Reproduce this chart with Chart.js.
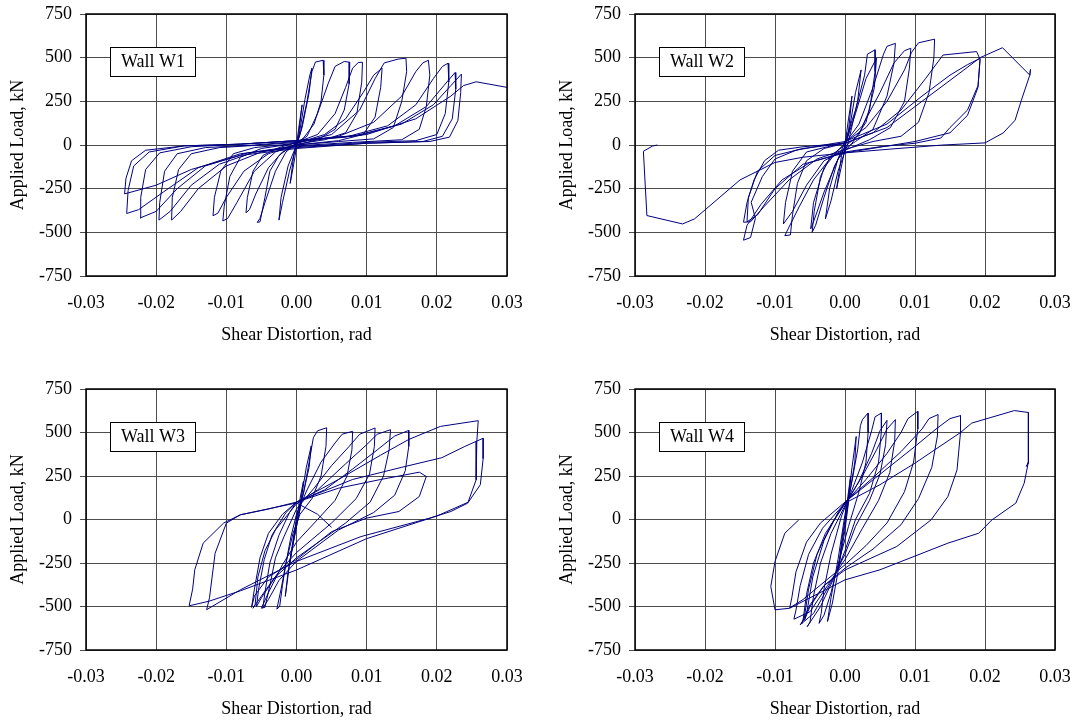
<!DOCTYPE html>
<html><head><meta charset="utf-8">
<script src="https://cdn.jsdelivr.net/npm/chart.js@4.4.1/dist/chart.umd.min.js"></script>
<style>
html,body{margin:0;padding:0;background:#fff;width:1074px;height:722px;overflow:hidden}
canvas{position:absolute;display:block}
</style></head><body>
<canvas id="c1" width="537" height="361" style="left:0;top:0"></canvas>
<canvas id="c2" width="537" height="361" style="left:537px;top:0"></canvas>
<canvas id="c3" width="537" height="361" style="left:0;top:361px"></canvas>
<canvas id="c4" width="537" height="361" style="left:537px;top:361px"></canvas>
<script>
const xTickValues = [-0.03, -0.02, -0.01, 0, 0.01, 0.02, 0.03];
const yTickValues = [-750, -500, -250, 0, 250, 500, 750];
const wallNames = ['Wall W1', 'Wall W2', 'Wall W3', 'Wall W4'];
const xTitle = 'Shear Distortion, rad';
const yTitle = 'Applied Load, kN';

// [shear distortion (rad), applied load (kN)]
const wallW1 = [
[0,0],[0.0004,120],[0.0008,230],[0.0003,60],[-0.0004,-110],[-0.0009,-220],[-0.0004,-60],[0.0003,40],[0.0012,260],[0.0019,400],[0.0022,440],[0.0018,300],[0.0008,100],[0,0],[-0.001,-150],[-0.002,-330],[-0.0025,-430],[-0.0022,-300],[-0.0012,-120],[-0.0002,-20],
[0.0005,60],[0.0015,250],[0.0022,420],[0.0027,475],[0.0038,485],[0.0039,400],[0.0035,250],[0.0025,120],[0.001,40],[0,10],[-0.0015,-40],[-0.003,-150],[-0.0045,-330],[-0.0052,-420],[-0.0056,-443],[-0.0052,-440],[-0.0045,-300],[-0.0038,-150],[-0.0025,-60],[-0.001,-15],[0,10],
[0.0015,50],[0.003,180],[0.0045,350],[0.0055,450],[0.0068,478],[0.0076,474],[0.0075,350],[0.0068,200],[0.0055,90],[0.003,30],[0,0],[-0.002,-40],[-0.004,-130],[-0.0058,-280],[-0.0067,-370],[-0.0072,-388],[-0.007,-300],[-0.0062,-150],[-0.0048,-60],[-0.0025,-15],[0,15],
[0.003,60],[0.0055,180],[0.007,330],[0.008,440],[0.0088,472],[0.0094,474],[0.0093,360],[0.0086,180],[0.007,70],[0.004,30],[0,5],[-0.003,-40],[-0.006,-150],[-0.0085,-330],[-0.0098,-420],[-0.0105,-435],[-0.0103,-350],[-0.0095,-180],[-0.008,-70],[-0.005,-20],[0,10],
[0.004,60],[0.007,150],[0.0095,300],[0.011,400],[0.0122,440],[0.012,330],[0.0112,160],[0.0095,60],[0.006,25],[0,0],[-0.004,-50],[-0.0075,-150],[-0.01,-300],[-0.0112,-390],[-0.0119,-405],[-0.0117,-300],[-0.0108,-150],[-0.009,-50],[-0.006,-15],[0,10],
[0.005,60],[0.009,200],[0.0112,380],[0.0125,470],[0.0145,492],[0.0156,497],[0.0157,420],[0.015,250],[0.0138,100],[0.011,35],[0.006,20],[0,0],[-0.005,-40],[-0.01,-120],[-0.014,-250],[-0.0165,-380],[-0.0178,-430],[-0.0177,-300],[-0.0168,-140],[-0.015,-50],[-0.011,-15],[-0.005,0],[0,15],
[0.006,50],[0.011,130],[0.015,280],[0.017,420],[0.018,470],[0.0188,485],[0.019,400],[0.0185,220],[0.0175,90],[0.015,30],[0.008,15],[0,-5],[-0.006,-40],[-0.011,-110],[-0.015,-230],[-0.018,-380],[-0.0196,-430],[-0.0195,-330],[-0.0188,-150],[-0.017,-50],[-0.013,-15],[-0.006,0],[0,20],
[0.007,45],[0.013,110],[0.017,230],[0.0195,380],[0.0208,450],[0.0216,468],[0.0217,360],[0.0212,180],[0.02,60],[0.017,25],[0.01,15],[0,-10],[-0.007,-45],[-0.013,-120],[-0.017,-250],[-0.02,-380],[-0.0223,-418],[-0.0222,-300],[-0.0215,-140],[-0.0195,-45],[-0.015,-10],[-0.008,5],[0,25],
[0.008,50],[0.014,110],[0.0185,220],[0.021,340],[0.0226,415],[0.0227,320],[0.0222,150],[0.0208,50],[0.018,20],[0.01,10],[0,-15],[-0.008,-50],[-0.014,-130],[-0.019,-270],[-0.0225,-370],[-0.0242,-392],[-0.024,-260],[-0.0232,-120],[-0.021,-40],[-0.016,-5],[-0.008,5],[0,25],
[0.009,55],[0.015,120],[0.0195,230],[0.022,340],[0.0235,406],[0.0234,300],[0.023,140],[0.0218,45],[0.019,20],[0.01,10],[0,-20],[-0.008,-60],[-0.015,-140],[-0.02,-230],[-0.0245,-280],[-0.0243,-190],[-0.0235,-90],[-0.0215,-30],[-0.016,-5],[-0.008,5],[0,25],
[0.01,60],[0.017,150],[0.022,280],[0.0238,340],[0.0256,362],[0.03,330]
];

const wallW2 = [
[0,0],[0.0005,150],[0.001,280],[0.0005,80],[-0.0005,-120],[-0.0012,-250],[-0.0005,-60],[0.0005,60],[0.0015,300],[0.0023,430],[0.0018,250],[0.0005,20],[-0.001,-150],[-0.002,-320],[-0.0028,-423],[-0.0022,-250],[-0.001,-80],
[0,20],[0.0015,200],[0.0028,400],[0.0032,520],[0.0043,545],[0.0043,420],[0.0035,200],[0.002,60],[0,-10],[-0.0015,-120],[-0.003,-300],[-0.0042,-460],[-0.0047,-500],[-0.0044,-380],[-0.0035,-180],[-0.002,-60],[0,0],
[0.0015,180],[0.003,380],[0.0045,497],[0.0042,330],[0.003,130],[0.001,10],[-0.001,-80],[-0.003,-270],[-0.0045,-440],[-0.0049,-480],[-0.0045,-330],[-0.003,-130],[-0.001,-30],
[0,10],[0.002,120],[0.004,330],[0.0055,520],[0.006,565],[0.0072,582],[0.007,470],[0.006,280],[0.004,90],[0.0015,20],[0,-20],[-0.002,-70],[-0.0045,-200],[-0.0065,-350],[-0.008,-470],[-0.0086,-519],[-0.0078,-515],[-0.0075,-400],[-0.0068,-220],[-0.0055,-90],[-0.003,-20],[0,10],
[0.0025,110],[0.005,300],[0.007,470],[0.0085,540],[0.0094,554],[0.0092,440],[0.0085,250],[0.0065,100],[0.0035,30],[0,-30],[-0.003,-90],[-0.0055,-230],[-0.0075,-380],[-0.0088,-452],[-0.0085,-330],[-0.0075,-150],[-0.0055,-40],[-0.0025,-10],[0,15],
[0.003,100],[0.006,250],[0.0085,430],[0.0095,530],[0.0105,585],[0.0128,606],[0.0127,500],[0.012,300],[0.0105,130],[0.008,50],[0.004,20],[0,-25],[-0.004,-80],[-0.008,-200],[-0.0115,-350],[-0.0135,-440],[-0.0145,-442],[-0.014,-330],[-0.013,-200],[-0.0115,-90],[-0.0095,-30],[-0.006,-10],[0,10],
[0.004,70],[0.008,200],[0.0115,380],[0.014,515],[0.0188,535],[0.0193,490],[0.019,340],[0.0175,200],[0.015,100],[0.0137,40],[0.01,10],[0.005,-10],[0,-40],[-0.005,-100],[-0.009,-200],[-0.012,-340],[-0.014,-460],[-0.0145,-545],[-0.0135,-530],[-0.0128,-420],[-0.0134,-328],[-0.0118,-180],[-0.01,-80],[-0.007,-30],[-0.003,0],[0,20],
[0.006,120],[0.011,280],[0.015,400],[0.0175,460],[0.0193,496],[0.019,330],[0.0175,170],[0.015,70],[0.01,20],[0,-45],[-0.006,-110],[-0.01,-250],[-0.0125,-400],[-0.014,-440],[-0.0138,-300],[-0.0125,-150],[-0.01,-60],[-0.006,-20],[0,10],
[0.006,100],[0.012,280],[0.017,430],[0.0193,500],[0.0225,557],[0.0264,400],[0.0265,433],[0.0264,400],[0.0252,257],[0.0243,142],[0.0226,69],[0.02,12],[0.014,0],[0.006,-25],[0,-45],[-0.006,-70],[-0.01,-100],[-0.015,-200],[-0.0215,-423],[-0.0232,-452],[-0.0283,-404],[-0.0288,-36],[-0.0275,-6],[-0.0268,0]
];

const wallW3 = [
[0,0],[0.0005,120],[0.001,220],[0.0005,60],[-0.0004,-120],[-0.001,-260],[-0.0004,-90],[0.0005,80],[0.0014,300],[0.0021,423],[0.0018,300],[0.0008,120],[0,-40],[-0.0008,-200],[-0.0016,-442],[-0.0012,-300],[-0.0004,-120],[0,20],
[0.001,150],[0.0018,330],[0.0024,470],[0.003,510],[0.0043,527],[0.0042,420],[0.0035,250],[0.0022,120],[0.0005,30],[-0.0005,-80],[-0.0015,-250],[-0.0022,-400],[-0.0028,-515],[-0.0024,-500],[-0.002,-380],[-0.0015,-250],[-0.0008,-100],[0,30],
[0.0015,170],[0.0035,330],[0.0055,440],[0.0065,490],[0.008,507],[0.0079,400],[0.0072,250],[0.0055,110],[0.003,0],[0,-130],[-0.002,-260],[-0.004,-420],[-0.005,-510],[-0.0045,-505],[-0.0038,-380],[-0.003,-220],[-0.0018,-100],[0,60],
[0.0025,180],[0.005,310],[0.0075,420],[0.009,490],[0.0112,526],[0.0111,420],[0.0104,260],[0.0085,120],[0.005,-20],[0,-190],[-0.0025,-300],[-0.005,-440],[-0.0062,-510],[-0.0059,-490],[-0.0055,-330],[-0.0045,-180],[-0.003,-60],[-0.001,40],[0,90],
[0.003,170],[0.007,320],[0.01,430],[0.0115,490],[0.0134,516],[0.0132,400],[0.0124,250],[0.0105,100],[0.007,-20],[0,-220],[-0.003,-330],[-0.005,-450],[-0.0057,-500],[-0.0054,-400],[-0.0046,-230],[-0.0035,-90],[-0.0015,40],[0,100],
[0.004,170],[0.008,290],[0.0115,400],[0.014,480],[0.016,512],[0.016,420],[0.0155,280],[0.014,140],[0.011,40],[0.006,-60],[0,-240],[-0.0025,-350],[-0.004,-460],[-0.0048,-508],[-0.0045,-420],[-0.0038,-250],[-0.0025,-90],[-0.001,40],[0,100],
[0.006,180],[0.012,230],[0.0175,272],[0.0185,247],[0.0175,132],[0.0146,46],[0.01,8],[0.005,-70],[0,-230],[-0.004,-330],[-0.006,-440],[-0.0064,-505],[-0.006,-400],[-0.0052,-220],[-0.004,-80],[-0.002,30],[0,100],
[0.006,230],[0.012,370],[0.016,460],[0.0205,535],[0.0259,568],[0.0257,450],[0.0256,228],[0.0244,94],[0.022,46],[0.019,8],[0.0092,-98],[0,-241],[-0.008,-404],[-0.0128,-518],[-0.0124,-450],[-0.0116,-194],[-0.01,-21],[-0.008,27],[-0.004,60],[0,100],
[0.008,230],[0.015,300],[0.0207,355],[0.024,420],[0.0266,467],[0.0266,350],[0.0262,200],[0.0245,100],[0.02,20],[0.01,-110],[0,-290],[-0.008,-410],[-0.0125,-470],[-0.0153,-496],[-0.0148,-400],[-0.0145,-289],[-0.0133,-136],[-0.0104,-21],[-0.008,27],[-0.003,70],[0,95],[0.003,30],[0.005,-45]
];

const wallW4 = [
[0,0],[0.0004,130],[0.0008,250],[0.0004,80],[-0.0004,-130],[-0.0009,-270],[-0.0004,-100],[0.0004,90],[0.001,300],[0.0016,477],[0.0014,330],[0.0006,130],[0,-60],[-0.001,-300],[-0.0018,-480],[-0.0025,-586],[-0.002,-450],[-0.001,-230],[0,30],
[0.001,220],[0.0018,400],[0.0022,540],[0.0025,575],[0.0033,612],[0.0033,500],[0.003,330],[0.002,160],[0.0005,-40],[-0.0008,-230],[-0.002,-420],[-0.003,-550],[-0.0037,-597],[-0.0034,-540],[-0.003,-400],[-0.002,-200],[-0.0005,20],
[0.001,170],[0.0025,330],[0.0038,510],[0.0043,590],[0.0052,612],[0.0052,510],[0.0048,330],[0.0035,150],[0.0015,0],[0,-180],[-0.0015,-330],[-0.0035,-500],[-0.0054,-616],[-0.005,-590],[-0.0045,-440],[-0.0035,-250],[-0.002,-80],[0,80],
[0.002,220],[0.0038,380],[0.005,510],[0.006,570],[0.0058,430],[0.005,260],[0.0035,110],[0.0015,-40],[0,-200],[-0.002,-360],[-0.0045,-540],[-0.0064,-605],[-0.006,-580],[-0.0055,-430],[-0.0045,-250],[-0.0028,-80],[0,90],
[0.0025,250],[0.0045,400],[0.006,520],[0.0072,574],[0.0071,450],[0.0064,270],[0.0048,110],[0.0025,-50],[0,-230],[-0.0025,-380],[-0.005,-530],[-0.0073,-573],[-0.007,-520],[-0.0064,-380],[-0.0052,-200],[-0.0032,-50],[0,95],
[0.003,230],[0.006,380],[0.008,500],[0.009,580],[0.0104,622],[0.0104,520],[0.0098,330],[0.0085,160],[0.006,-20],[0.003,-150],[0,-260],[-0.003,-360],[-0.006,-460],[-0.0079,-508],[-0.0076,-450],[-0.007,-300],[-0.0055,-130],[-0.0035,-20],[0,100],
[0.004,240],[0.008,390],[0.011,520],[0.012,580],[0.0133,603],[0.0132,480],[0.0124,300],[0.0105,120],[0.008,-30],[0.004,-170],[0,-280],[-0.003,-380],[-0.005,-490],[-0.0062,-600],[-0.0058,-560],[-0.0052,-400],[-0.004,-200],[-0.002,-30],[0,100],
[0.005,260],[0.01,420],[0.013,520],[0.015,580],[0.0165,597],[0.0165,500],[0.016,285],[0.0147,132],[0.0123,-2],[0.0074,-155],[0,-290],[-0.003,-380],[-0.005,-500],[-0.0058,-580],[-0.0054,-520],[-0.0046,-330],[-0.003,-120],[-0.001,40],[0,94],
[0.005,200],[0.01,324],[0.0165,500],[0.0181,554],[0.0242,626],[0.0262,615],[0.0262,324],[0.0259,305],[0.0262,330],[0.0256,209],[0.0244,94],[0.021,-2],[0.0191,-79],[0.0147,-136],[0.005,-289],[0,-347],[-0.0079,-510],[-0.01,-519],[-0.0106,-385],[-0.01,-241],[-0.0086,-79],[-0.0066,-2]
];

const FONT = '"Liberation Serif", "Times New Roman", serif';

const wallLabel = {
  id: 'wallLabel',
  afterDraw(chart, args, opts) {
    const {ctx, chartArea: a} = chart;
    ctx.save();
    ctx.strokeStyle = '#000';
    ctx.lineWidth = 1.5;
    ctx.strokeRect(a.left, a.top, a.right - a.left, a.bottom - a.top);
    const bx = Math.round(a.left + 24), by = Math.round(a.top + 33), bw = 85, bh = 29;
    ctx.fillStyle = '#fff';
    ctx.fillRect(bx, by, bw, bh);
    ctx.lineWidth = 1;
    ctx.strokeRect(bx + 0.5, by + 0.5, bw, bh);
    ctx.fillStyle = '#000';
    ctx.font = '18px ' + FONT;
    ctx.textAlign = 'center';
    ctx.textBaseline = 'middle';
    ctx.fillText(opts.text, bx + bw / 2 + 0.5, by + bh / 2 + 1);
    ctx.restore();
  }
};

function makeChart(id, pts, name, pad) {
  new Chart(document.getElementById(id), {
    type: 'scatter',
    data: { datasets: [{
      data: pts.map(p => ({x: p[0], y: p[1]})),
      showLine: true, borderColor: '#000080', borderWidth: 1,
      pointRadius: 0, pointHoverRadius: 0, tension: 0, fill: false
    }]},
    options: {
      responsive: false, animation: false, devicePixelRatio: 1,
      layout: { padding: pad },
      plugins: { legend: {display: false}, tooltip: {enabled: false}, wallLabel: {text: name} },
      scales: {
        x: {
          type: 'linear', min: -0.03, max: 0.03,
          afterBuildTicks: s => { s.ticks = xTickValues.map(v => ({value: v})); },
          afterFit: s => { s.height = 72; s.paddingLeft = 0; s.paddingRight = 0; },
          grid: { color: '#4d4d4d', lineWidth: 1, drawTicks: false },
          border: { display: false },
          ticks: { padding: 16, color: '#000', font: {family: FONT, size: 18}, maxRotation: 0, autoSkip: false,
                   callback: v => Number(v).toFixed(2) },
          title: { display: true, text: xTitle, color: '#000', font: {family: FONT, size: 18}, padding: {top: 0, bottom: 2} }
        },
        y: {
          type: 'linear', min: -750, max: 750,
          afterBuildTicks: s => { s.ticks = yTickValues.map(v => ({value: v})); },
          afterFit: s => { s.width = 86; s.paddingTop = 0; s.paddingBottom = 0; },
          grid: { color: '#4d4d4d', lineWidth: 1, tickLength: 6 },
          border: { display: false },
          ticks: { padding: 8, color: '#000', font: {family: FONT, size: 18}, autoSkip: false, callback: v => String(v) },
          title: { display: true, text: yTitle, color: '#000', font: {family: FONT, size: 18}, padding: {top: 7, bottom: 0} }
        }
      }
    },
    plugins: [wallLabel]
  });
}

makeChart('c1', wallW1, wallNames[0], {left: 0, top: 14, right: 30, bottom: 13});
makeChart('c2', wallW2, wallNames[1], {left: 12, top: 14, right: 19, bottom: 13});
makeChart('c3', wallW3, wallNames[2], {left: 0, top: 28, right: 30, bottom: 0});
makeChart('c4', wallW4, wallNames[3], {left: 12, top: 28, right: 19, bottom: 0});
</script>
</body></html>
